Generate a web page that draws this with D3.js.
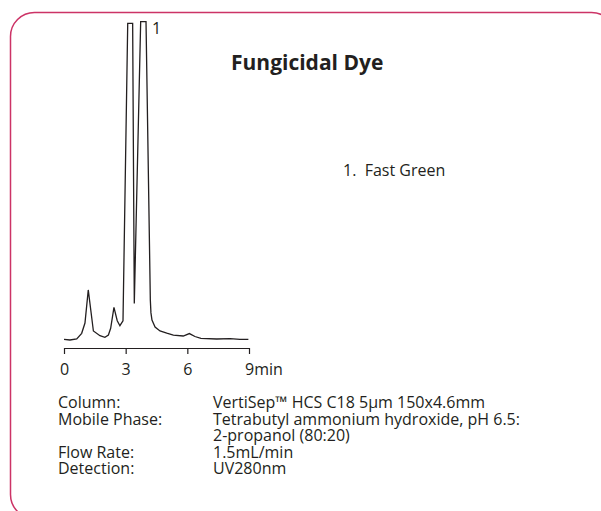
<!DOCTYPE html>
<html>
<head>
<meta charset="utf-8">
<script src="https://cdn.jsdelivr.net/npm/d3@7"></script>
<style>
  html, body { margin: 0; padding: 0; background: #fff; }
  svg { display: block; }
  text { font-family: "Open Sans", "Noto Sans", sans-serif; fill: #231f20; }
</style>
</head>
<body>
<script>
// ---- data ----
const times  = [0, 0.29, 0.62, 0.86, 1.02, 1.18, 1.43, 1.75, 1.99, 2.16, 2.27, 2.43, 2.59, 2.72, 2.87,
                3.10, 3.34, 3.42, 3.73, 3.99, 4.20, 4.23, 4.28, 4.43, 4.67, 5.00, 5.32, 5.80, 6.10,
                6.37, 6.66, 7.43, 8.08, 8.56, 8.97];
const signal = [2.65, 2.44, 2.74, 4.48, 7.62, 17.7, 5.18, 3.75, 3.26, 3.96, 6.0, 12.4, 8.3, 6.8, 8.3,
                99.0, 99.0, 13.6, 99.5, 99.5, 14.6, 10.7, 8.5, 6.4, 5.2, 4.5, 3.9, 3.66, 4.4,
                3.5, 2.96, 2.74, 2.84, 2.65, 2.6];
const tickValues = [0, 3, 6, 9];
const tickLabels = ["0", "3", "6", "9min"];
const peakNames = ["1"];
const peakTimes = [3.99];
const peakValues = [99.5];
const title = "Fungicidal Dye";
const legendItems = ["1.  Fast Green"];
const condLabels = ["Column:", "Mobile Phase:", "", "Flow Rate:", "Detection:"];
const condValues = ["VertiSep\u2122 HCS C18 5\u00b5m 150x4.6mm",
                    "Tetrabutyl ammonium hydroxide, pH 6.5:",
                    "2-propanol (80:20)",
                    "1.5mL/min",
                    "UV280nm"];

// ---- drawing ----
const W = 601, H = 511;
const svg = d3.select("body").append("svg").attr("width", W).attr("height", H);

// rounded frame (right and bottom edges run past the window)
svg.append("rect")
  .attr("x", 10.5).attr("y", 12.5).attr("width", 605).attr("height", 506)
  .attr("rx", 24).attr("ry", 24)
  .attr("fill", "none").attr("stroke", "#cc3366").attr("stroke-width", 1.5);

const x = d3.scaleLinear().domain([0, 9]).range([64, 249]);
const y = d3.scaleLinear().domain([0, 100]).range([348, 20]);

const data = times.map((t, i) => ({t, v: signal[i]}));

svg.append("path")
  .datum(data)
  .attr("fill", "none")
  .attr("stroke", "#231f20")
  .attr("stroke-width", 1.3)
  .attr("stroke-linejoin", "miter")
  .attr("d", d3.line().x(d => x(d.t)).y(d => y(d.v)));

// axis
const axis = d3.axisBottom(x)
  .tickValues(tickValues)
  .tickSize(6)
  .tickSizeOuter(0)
  .tickFormat((d, i) => tickLabels[i]);
const gAxis = svg.append("g").attr("transform", "translate(0,348)").call(axis);
gAxis.select(".domain").attr("stroke", "#231f20").attr("stroke-width", 1.2);
gAxis.selectAll(".tick line").attr("stroke", "#231f20").attr("stroke-width", 1.2);
gAxis.selectAll(".tick text")
  .attr("font-family", "Open Sans")
  .attr("font-size", 16)
  .attr("fill", "#231f20")
  .attr("y", 27).attr("dy", 0)
  .attr("text-anchor", (d, i) => i === tickLabels.length - 1 ? "start" : "middle")
  .attr("dx", (d, i) => i === tickLabels.length - 1 ? -4.5 : 0);

// peak label
svg.selectAll(".peaklbl").data(peakNames).enter().append("text")
  .attr("class", "peaklbl")
  .attr("x", (d, i) => x(peakTimes[i]) + 6)
  .attr("y", (d, i) => y(peakValues[i]) + 12)
  .attr("font-size", 16)
  .text(d => d);

// title
svg.append("text")
  .attr("x", 231).attr("y", 70)
  .attr("font-size", 21).attr("font-weight", "bold")
  .text(title);

// legend
svg.selectAll(".leg").data(legendItems).enter().append("text")
  .attr("class", "leg")
  .attr("x", 343).attr("y", (d, i) => 176 + i * 17)
  .attr("font-size", 16)
  .attr("xml:space", "preserve")
  .style("white-space", "pre")
  .text(d => d);

// conditions
const rowY = i => 408 + i * 16.5;
svg.selectAll(".clab").data(condLabels).enter().append("text")
  .attr("class", "clab")
  .attr("x", 58).attr("y", (d, i) => rowY(i))
  .attr("font-size", 16)
  .text(d => d);
svg.selectAll(".cval").data(condValues).enter().append("text")
  .attr("class", "cval")
  .attr("x", 213).attr("y", (d, i) => rowY(i))
  .attr("font-size", 16)
  .text(d => d);
</script>
</body>
</html>
